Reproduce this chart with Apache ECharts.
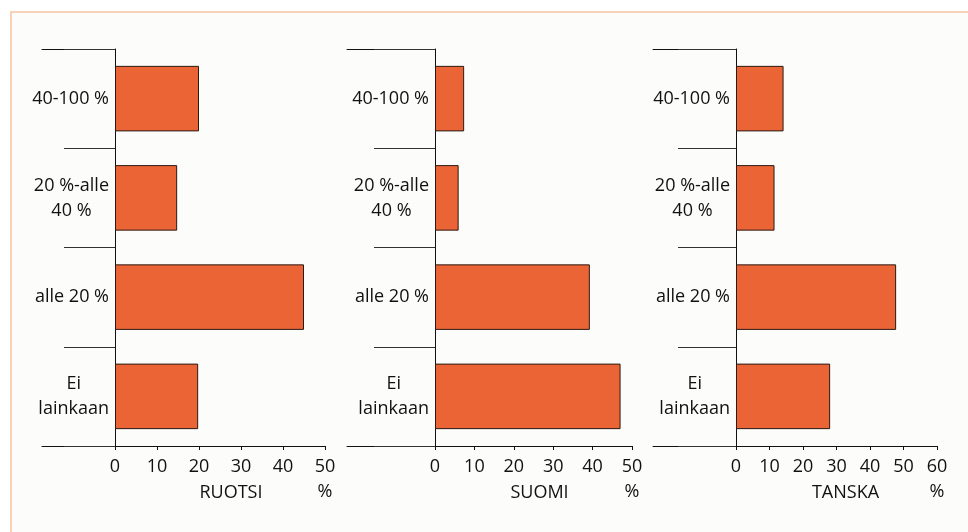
<!DOCTYPE html>
<html>
<head>
<meta charset="utf-8">
<script src="https://cdn.jsdelivr.net/npm/echarts@6/dist/echarts.min.js"></script>
<style>
  html, body { margin: 0; padding: 0; background: #ffffff; }
  #wrap { position: relative; width: 968px; height: 532px; overflow: hidden; }
  #frame {
    position: absolute; left: 10px; top: 11px; right: 0; bottom: 0;
    background: #fcfcfa;
    border-left: 2px solid #f7d2b8;
    border-top: 2px solid #f7d2b8;
  }
  #chart { position: absolute; left: 0; top: 0; width: 968px; height: 532px; }
</style>
</head>
<body>
<div id="wrap">
  <div id="frame"></div>
  <div id="chart"></div>
</div>
<script>
// Categories, bottom to top
const categories = ['Ei\nlainkaan', 'alle 20 %', '20 %-alle\n40 %', '40-100 %'];

// Shares (%) per country
const ruotsi = [19.8, 45.0, 14.8, 20.0];
const suomi  = [47.1, 39.3, 6.0, 7.4];
const tanska = [28.1, 47.8, 11.5, 14.2];

const countryNames = ['RUOTSI', 'SUOMI', 'TANSKA'];
const axisMax = [50, 50, 60];
const axisStep = 10;
const unitLabel = '%';

const seriesData = [ruotsi, suomi, tanska];

const FONT = '"Open Sans", "Noto Sans", sans-serif';
const FS = 18;
const TEXT = '#111111';
const BAR = '#eb6436';

// Panel geometry
const panels = [
  { left: 115, width: 210, sideLeft: 42,  tick: 51, namePad: 22 },
  { left: 435, width: 197, sideLeft: 347, tick: 61, namePad: 12 },
  { left: 736, width: 201, sideLeft: 653, tick: 58, namePad: 18 }
];
const TOP = 49, HEIGHT = 397;

const grid = [], xAxis = [], yAxis = [], series = [];

panels.forEach((p, i) => {
  grid.push({ left: p.left, top: TOP, width: p.width, height: HEIGHT, outerBoundsMode: 'none', containLabel: false });
  const max = axisMax[i];
  xAxis.push({
    gridIndex: i, type: 'value', min: 0, max: max, interval: axisStep,
    name: countryNames[i], nameLocation: 'middle', nameGap: 34, nameMoveOverlap: false,
    nameTextStyle: { fontFamily: FONT, fontSize: FS, color: TEXT, lineHeight: 25, padding: [0, 0, 0, p.namePad] },
    axisLine: { show: true, lineStyle: { color: '#111', width: 1 } },
    axisTick: { show: true, length: 4, lineStyle: { color: '#111', width: 1 } },
    axisLabel: {
      fontFamily: FONT, fontSize: FS, color: TEXT, margin: 8, lineHeight: 25,
      formatter: v => v === max ? v + '\n' + unitLabel : String(v)
    },
    splitLine: { show: false }
  });
  yAxis.push({
    gridIndex: i, type: 'category', data: categories,
    axisLine: { show: true, lineStyle: { color: '#111', width: 1 } },
    axisTick: { show: true, length: p.tick, lineStyle: { color: '#333', width: 1 } },
    axisLabel: {
      margin: 6, align: 'right',
      formatter: v => v.split('\n').map(s => '{c|' + s + '}').join('\n'),
      rich: { c: { align: 'center', fontFamily: FONT, fontSize: FS, color: TEXT, lineHeight: 25 } }
    },
    splitLine: { show: false }
  });
  series.push({
    type: 'bar', xAxisIndex: i, yAxisIndex: i,
    data: seriesData[i],
    barCategoryGap: '34%',
    itemStyle: { color: BAR, borderColor: '#2a1a12', borderWidth: 1 },
    silent: true
  });
});

// Side grids carry the extended top and bottom rules left of each panel
panels.forEach((p, i) => {
  const gi = grid.length;
  grid.push({ left: p.sideLeft, top: TOP, width: p.left - p.sideLeft, height: HEIGHT, outerBoundsMode: 'none', containLabel: false });
  ['bottom', 'top'].forEach(pos => {
    xAxis.push({
      gridIndex: gi, type: 'value', min: 0, max: 1, position: pos,
      axisLine: { show: true, lineStyle: { color: '#111', width: 1 } },
      axisTick: { show: false }, axisLabel: { show: false }, splitLine: { show: false }
    });
  });
  yAxis.push({ gridIndex: gi, type: 'value', min: 0, max: 1, show: false });
});

const chart = echarts.init(document.getElementById('chart'), null, { renderer: 'canvas' });
chart.setOption({
  animation: false,
  backgroundColor: 'transparent',
  grid, xAxis, yAxis, series
});
</script>
</body>
</html>
